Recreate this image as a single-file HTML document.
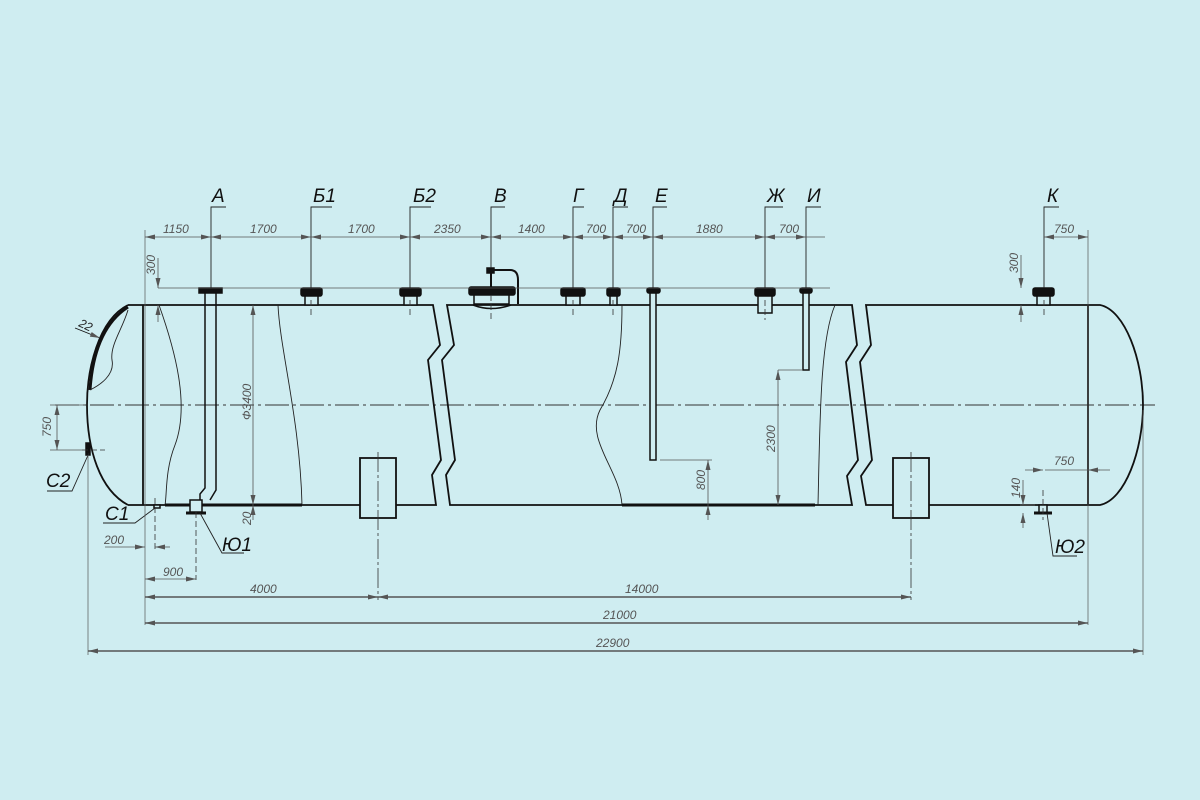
<!DOCTYPE html>
<html><head><meta charset="utf-8"><style>
html,body{margin:0;padding:0;background:#cfedf1;}
svg{display:block}
.d{font-family:"Liberation Sans",sans-serif;font-style:italic;font-size:12px;fill:#555;}
.l{font-family:"Liberation Sans",sans-serif;font-style:italic;font-size:19px;fill:#111;}
</style></head><body>
<svg width="1200" height="800" viewBox="0 0 1200 800" xmlns="http://www.w3.org/2000/svg">
<defs>
<marker id="a" viewBox="0 0 10 6" refX="10" refY="3" markerWidth="10" markerHeight="6" orient="auto-start-reverse" markerUnits="userSpaceOnUse"><path d="M0,0.5 L10,3 L0,5.5 z" fill="#555"/></marker>
</defs>
<rect width="1200" height="800" fill="#cfedf1"/>

<line x1="55" y1="405" x2="1155" y2="405" stroke="#333" stroke-width="1" stroke-dasharray="24,4,3,4"/>

<g fill="none" stroke="#111" stroke-width="1.8">
<path d="M128,305 C98,320 87,370 87,405 C87,450 100,490 128,505"/>
<path d="M128,305 L433,305 L440,345 L428,360 L441,460 L432,475 L436,505 L128,505"/>
<path d="M447,305 L852,305 L857,345 L846,362 L858,460 L847,476 L852,505 L450,505 L446,475 L455,460 L442,360 L454,345 Z"/>
<path d="M866,305 L1100,305 C1125,310 1143,360 1143,405 C1143,450 1125,500 1100,505 L866,505 L861,476 L872,460 L860,362 L871,345 Z"/>
<line x1="143" y1="305" x2="143" y2="505"/>
<line x1="1088" y1="305" x2="1088" y2="505"/>
<rect x="360" y="458" width="36" height="60" fill="#cfedf1"/>
<rect x="893" y="458" width="36" height="60" fill="#cfedf1"/>
</g>
<path d="M128,307 C100,325 92,360 90,390" fill="none" stroke="#111" stroke-width="3"/>
<g fill="none" stroke="#222" stroke-width="0.9">
<path d="M128,310 C122,330 110,345 112,360 C115,375 100,385 90,390"/>
<path d="M159,305 C175,350 190,405 175,445 C165,470 167,495 165,505"/>
<path d="M278,305 C280,350 300,420 302,505"/>
<path d="M622,305 C622,350 618,380 600,410 C585,440 620,470 622,505"/>
<path d="M835,305 C820,340 820,420 818,505"/>
</g>
<g stroke="#111" stroke-width="3"><line x1="165" y1="505" x2="302" y2="505"/><line x1="622" y1="505" x2="815" y2="505"/></g>

<g stroke="#333" stroke-width="0.8" stroke-dasharray="20,3,3,3">
<line x1="378" y1="452" x2="378" y2="600"/><line x1="911" y1="452" x2="911" y2="600"/>
</g>

<g fill="#cfedf1" stroke="#111" stroke-width="1.5">
<path d="M205,293 L205,488 L200,494 L200,503 M216,293 L216,490 L210,500" fill="none"/>
<rect x="199" y="288" width="23" height="5" fill="#111"/>
<rect x="190" y="500" width="12" height="12"/><line x1="186" y1="513" x2="206" y2="513" stroke-width="3"/>
<rect x="154" y="505" width="6" height="3"/>
<rect x="305" y="295" width="13" height="10"/><rect x="301" y="288" width="21" height="8" rx="2" fill="#111"/>
<rect x="404" y="295" width="13" height="10"/><rect x="400" y="288" width="21" height="8" rx="2" fill="#111"/>
<rect x="474" y="294" width="35" height="10"/><rect x="469" y="287" width="46" height="8" rx="2" fill="#111"/>
<path d="M473,305 Q491,312 511,305" fill="none"/>
<path d="M491,287 L491,270 L510,270 Q518,270 518,280 L518,304" fill="none" stroke-width="2"/>
<rect x="487" y="268" width="7" height="5" fill="#111"/>
<rect x="566" y="295" width="14" height="10"/><rect x="561" y="288" width="24" height="8" rx="2" fill="#111"/>
<rect x="610" y="295" width="7" height="10"/><rect x="607" y="288" width="13" height="8" rx="2" fill="#111"/>
<rect x="650" y="292" width="6" height="168"/><rect x="647" y="288" width="13" height="5" rx="2" fill="#111"/>
<rect x="758" y="295" width="14" height="18"/><rect x="755" y="288" width="20" height="8" rx="2" fill="#111"/>
<rect x="803" y="292" width="6" height="78"/><rect x="800" y="288" width="12" height="5" rx="2" fill="#111"/>
<rect x="1037" y="295" width="13" height="10"/><rect x="1033" y="288" width="21" height="8" rx="2" fill="#111"/>
<rect x="1039" y="505" width="8" height="8"/><line x1="1034" y1="513" x2="1052" y2="513" stroke-width="3"/>
<rect x="86" y="443" width="4" height="12" fill="#111"/>
</g>

<g stroke="#333" stroke-width="0.8" stroke-dasharray="6,3">
<line x1="311" y1="300" x2="311" y2="318"/><line x1="410" y1="300" x2="410" y2="318"/>
<line x1="491" y1="295" x2="491" y2="320"/><line x1="573" y1="300" x2="573" y2="318"/>
<line x1="613" y1="300" x2="613" y2="318"/><line x1="765" y1="300" x2="765" y2="320"/>
<line x1="1044" y1="300" x2="1044" y2="318"/><line x1="82" y1="450" x2="105" y2="450"/>
<line x1="155" y1="498" x2="155" y2="550"/><line x1="196" y1="512" x2="196" y2="580"/>
<line x1="1043" y1="490" x2="1043" y2="520"/>
</g>

<line x1="158" y1="288" x2="830" y2="288" stroke="#555" stroke-width="0.7"/>

<g stroke="#222" stroke-width="0.9" fill="none">
<path d="M211,288 V207 H226"/><path d="M311,288 V207 H332"/><path d="M410,288 V207 H431"/>
<path d="M491,268 V207 H505"/><path d="M573,288 V207 H584"/><path d="M613,288 V207 H628"/>
<path d="M653,288 V207 H667"/><path d="M765,288 V207 H783"/><path d="M806,288 V207 H821"/>
<path d="M1044,288 V207 H1059"/>
<path d="M89,453 L72,491 H47"/><path d="M155,508 L135,523 H103"/>
<path d="M200,513 L222,553 H244"/><path d="M1047,513 L1053,556 H1077"/>
</g>
<g class="l">
<text x="212" y="202">A</text><text x="313" y="202">Б1</text><text x="413" y="202">Б2</text>
<text x="494" y="202">В</text><text x="573" y="202">Г</text><text x="614" y="202">Д</text>
<text x="655" y="202">Е</text><text x="767" y="202">Ж</text><text x="807" y="202">И</text>
<text x="1047" y="202">К</text>
<text x="46" y="487">С2</text><text x="105" y="520">С1</text>
<text x="222" y="551">Ю1</text><text x="1055" y="553">Ю2</text>
</g>

<g stroke="#555" stroke-width="0.7">
<line x1="145" y1="230" x2="145" y2="625"/>
<line x1="1088" y1="230" x2="1088" y2="625"/>
<line x1="88" y1="455" x2="88" y2="655"/>
<line x1="1143" y1="410" x2="1143" y2="655"/>
<line x1="825" y1="237" x2="806" y2="237"/>
<line x1="50" y1="405" x2="85" y2="405"/><line x1="50" y1="450" x2="85" y2="450"/>
<line x1="660" y1="460" x2="712" y2="460"/><line x1="778" y1="370" x2="803" y2="370"/>
<line x1="1035" y1="505" x2="1020" y2="505"/><line x1="1045" y1="470" x2="1100" y2="470"/>
</g>

<g stroke="#555" stroke-width="0.8" marker-start="url(#a)" marker-end="url(#a)">
<line x1="145" y1="237" x2="211" y2="237"/><line x1="211" y1="237" x2="311" y2="237"/>
<line x1="311" y1="237" x2="410" y2="237"/><line x1="410" y1="237" x2="491" y2="237"/>
<line x1="491" y1="237" x2="573" y2="237"/><line x1="573" y1="237" x2="613" y2="237"/>
<line x1="613" y1="237" x2="653" y2="237"/><line x1="653" y1="237" x2="765" y2="237"/>
<line x1="765" y1="237" x2="806" y2="237"/>
<line x1="1044" y1="237" x2="1088" y2="237"/>
<line x1="145" y1="579" x2="196" y2="579"/>
<line x1="145" y1="597" x2="378" y2="597" stroke-width="1.4"/><line x1="378" y1="597" x2="911" y2="597" stroke-width="1.4"/>
<line x1="145" y1="623" x2="1088" y2="623" stroke-width="1.4"/>
<line x1="88" y1="651" x2="1143" y2="651" stroke-width="1.4"/>
</g>
<g stroke="#555" stroke-width="0.8" fill="none">
<path d="M105,547 H145" marker-end="url(#a)"/><path d="M170,547 H155" marker-end="url(#a)"/>
<path d="M1025,470 H1043" marker-end="url(#a)"/><path d="M1110,470 H1088" marker-end="url(#a)"/>
</g>
<g stroke="#555" stroke-width="0.8" fill="none">
<line x1="253" y1="305" x2="253" y2="505" marker-start="url(#a)" marker-end="url(#a)"/>
<line x1="57" y1="405" x2="57" y2="450" marker-start="url(#a)" marker-end="url(#a)"/>
<line x1="708" y1="460" x2="708" y2="505" marker-start="url(#a)"/>
<path d="M708,520 V505" marker-end="url(#a)"/>
<line x1="778" y1="370" x2="778" y2="505" marker-start="url(#a)" marker-end="url(#a)"/>
<path d="M158,258 V288" marker-end="url(#a)"/><path d="M158,322 V305" marker-end="url(#a)"/>
<path d="M1021,255 V288" marker-end="url(#a)"/><path d="M1021,322 V305" marker-end="url(#a)"/>
<path d="M253,520 V505" marker-end="url(#a)"/>
<path d="M1023,480 V505" marker-end="url(#a)"/><path d="M1023,528 V513" marker-end="url(#a)"/>
<path d="M75,328 L100,338" marker-end="url(#a)" stroke="#111"/>
</g>
<g class="d">
<text x="163" y="233">1150</text><text x="250" y="233">1700</text><text x="348" y="233">1700</text>
<text x="434" y="233">2350</text><text x="518" y="233">1400</text><text x="586" y="233">700</text>
<text x="626" y="233">700</text><text x="696" y="233">1880</text><text x="779" y="233">700</text>
<text x="1054" y="233">750</text><text x="1054" y="465">750</text>
<text x="163" y="576">900</text><text x="250" y="593">4000</text><text x="625" y="593">14000</text>
<text x="603" y="619">21000</text><text x="596" y="647">22900</text>
<text x="104" y="544">200</text>
<text x="78" y="326" transform="rotate(25 78 326)" fill="#222">22</text>
<text transform="translate(251,420) rotate(-90)">Ф3400</text>
<text transform="translate(51,437) rotate(-90)">750</text>
<text transform="translate(155,275) rotate(-90)">300</text>
<text transform="translate(1018,273) rotate(-90)">300</text>
<text transform="translate(251,525) rotate(-90)">20</text>
<text transform="translate(705,490) rotate(-90)">800</text>
<text transform="translate(775,452) rotate(-90)">2300</text>
<text transform="translate(1020,498) rotate(-90)">140</text>
</g>
</svg>
</body></html>
